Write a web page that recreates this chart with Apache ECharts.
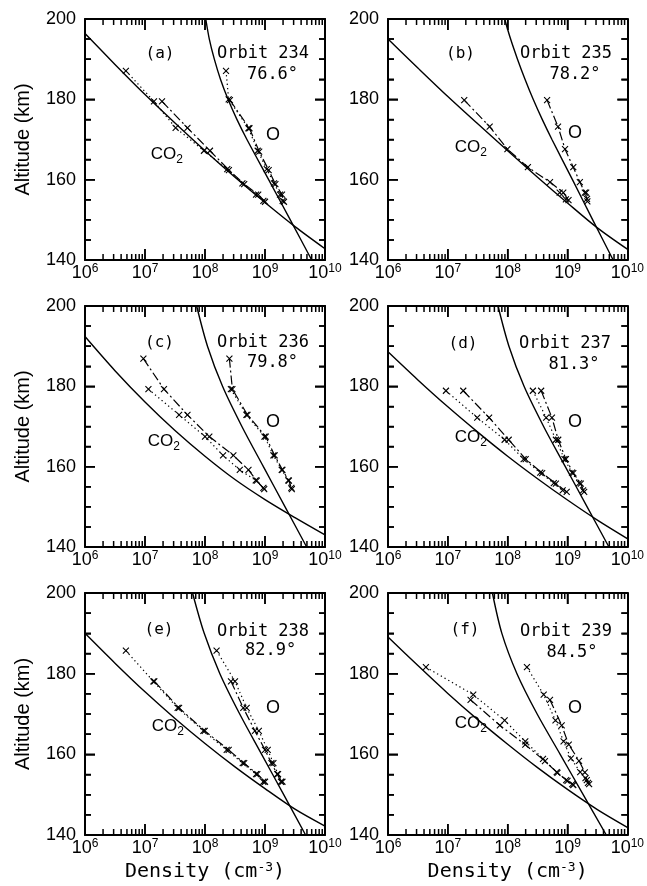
<!DOCTYPE html>
<html><head><meta charset="utf-8">
<script src="https://cdn.jsdelivr.net/npm/echarts@6/dist/echarts.min.js"></script>
<style>html,body{margin:0;padding:0;background:#fff}#c{width:647px;height:886px}</style>
</head><body><div id="c"></div>
<script>
// ---------- axis ticks ----------
const xMin = 1e6, xMax = 1e10, yMin = 140, yMax = 200;
const xMajorTicks = [1e7,1e8,1e9];
const xMinorTicks = [2e6,3e6,4e6,5e6,6e6,7e6,8e6,9e6,
                     2e7,3e7,4e7,5e7,6e7,7e7,8e7,9e7,
                     2e8,3e8,4e8,5e8,6e8,7e8,8e8,9e8,
                     2e9,3e9,4e9,5e9,6e9,7e9,8e9,9e9];
const yMajorTicks = [160,180];
const yMinorTicks = [145,150,155,165,170,175,185,190,195];
const yTickLabels = [140,160,180,200];

// ---------- panel (a) Orbit 234 ----------
const a_co2Model = [[1e6,196.4],[3.16e6,188.7],[1e7,181.2],[3.16e7,174.1],[1e8,167.2],[3.16e8,160.6],[1e9,154.3],[3.16e9,148.3],[1e10,142.8]];
const a_oModel   = [[1.03e8,200],[1.18e8,195],[1.43e8,190],[1.81e8,185],[2.42e8,180],[3.4e8,175],[5.0e8,170],[1.15e9,160],[2.64e9,150],[6.0e9,140]];
const a_co2Dot   = [[4.8e6,187.1],[1.41e7,179.5],[3.24e7,172.9],[9.6e7,167.2],[2.35e8,162.6],[4.2e8,159.1],[7.1e8,156.3],[9.4e8,154.7]];
const a_co2Dash  = [[1.92e7,179.5],[5.1e7,172.9],[1.21e8,167.2],[2.5e8,162.4],[4.5e8,158.9],[7.7e8,156.3],[1.0e9,154.5]];
const a_oDot     = [[2.24e8,187.1],[2.48e8,180.0],[5.3e8,172.8],[7.55e8,167.2],[1.07e9,162.6],[1.41e9,159.1],[1.78e9,156.3],[1.97e9,154.7]];
const a_oDash    = [[2.6e8,179.8],[5.5e8,172.8],[8.0e8,167],[1.15e9,162.4],[1.49e9,158.9],[1.92e9,156.3],[2.07e9,154.5]];

// ---------- panel (b) Orbit 235 ----------
const b_co2Model = [[1e6,195.0],[3.16e6,187.8],[1e7,180.7],[3.16e7,173.9],[1e8,167.2],[3.16e8,160.6],[1e9,154.2],[3.16e9,148.0],[1e10,142.7]];
const b_oModel   = [[8.9e7,200],[1.12e8,195],[1.46e8,190],[1.95e8,185],[2.67e8,180],[3.78e8,175],[5.5e8,170],[1.21e9,160],[2.64e9,150],[5.8e9,140]];
const b_co2Dot   = [[7.4e8,156.8],[9.4e8,155.1]];
const b_co2Dash  = [[1.88e7,179.8],[5.0e7,173.2],[9.9e7,167.6],[2.18e8,163.1],[5.1e8,159.4],[8.5e8,156.8],[1.04e9,154.9]];
const b_oDot     = [[2.05e9,156.8],[2.15e9,154.6]];
const b_oDash    = [[4.56e8,179.8],[6.95e8,173.2],[9.1e8,167.6],[1.25e9,163.1],[1.61e9,159.4],[1.95e9,156.8],[2.12e9,155.2]];

// ---------- panel (c) Orbit 236 ----------
const c_co2Model = [[1e6,192.4],[3.16e6,183.9],[1e7,176.1],[3.16e7,169.0],[1e8,162.6],[3.16e8,156.8],[1e9,151.8],[3.16e9,147.3],[1e10,143.0]];
const c_oModel   = [[7.26e7,200],[1.10e8,190],[1.96e8,180],[4.12e8,170],[9.4e8,160],[2.16e9,150],[4.95e9,140]];
const c_co2Dot   = [[1.14e7,179.3],[3.7e7,172.9],[1.0e8,167.5],[2.0e8,162.8],[3.8e8,159.2],[7.0e8,156.6],[9.4e8,154.7]];
const c_co2Dash  = [[9.4e6,186.9],[2.07e7,179.3],[5.1e7,172.9],[1.18e8,167.5],[2.97e8,162.8],[5.3e8,159.2],[7.3e8,156.5],[9.7e8,154.4]];
const c_oDot     = [[2.7e8,179.3],[4.9e8,172.9],[9.8e8,167.5],[1.38e9,162.8],[1.9e9,159.2],[2.45e9,156.6],[2.75e9,154.7]];
const c_oDash    = [[2.55e8,186.9],[2.86e8,179.3],[5.1e8,172.9],[1.03e9,167.5],[1.45e9,162.8],[1.95e9,159.2],[2.5e9,156.5],[2.8e9,154.4]];

// ---------- panel (d) Orbit 237 ----------
const d_co2Model = [[1e6,188.6],[3.16e6,181.6],[1e7,174.9],[3.16e7,168.6],[1e8,162.6],[3.16e8,157.0],[1e9,151.7],[3.16e9,146.7],[1e10,142.1]];
const d_oModel   = [[6.9e7,200],[1.05e8,190],[1.88e8,180],[3.99e8,170],[9.2e8,160],[2.13e9,150],[4.93e9,140]];
const d_co2Dot   = [[9.3e6,178.9],[3.1e7,172.2],[8.9e7,166.7],[1.85e8,161.9],[3.5e8,158.5],[5.9e8,155.9],[8.3e8,154.1]];
const d_co2Dash  = [[1.81e7,178.9],[4.9e7,172.2],[1.04e8,166.7],[2.0e8,161.9],[3.77e8,158.4],[6.4e8,155.8],[9.7e8,153.7]];
const d_oDot     = [[2.64e8,178.9],[4.4e8,172.2],[6.4e8,166.7],[8.9e8,161.9],[1.19e9,158.5],[1.57e9,155.9],[1.82e9,154.1]];
const d_oDash    = [[3.63e8,178.9],[5.5e8,172.2],[7.0e8,166.7],[9.4e8,161.9],[1.25e9,158.4],[1.67e9,155.8],[1.9e9,153.7]];

// ---------- panel (e) Orbit 238 ----------
const e_co2Model = [[1e6,190.0],[3.16e6,182.6],[1e7,175.5],[3.16e7,168.9],[1e8,162.7],[3.16e8,156.9],[1e9,151.5],[3.16e9,146.4],[1e10,142.2]];
const e_oModel   = [[6.2e7,200],[9.7e7,190],[1.77e8,180],[3.79e8,170],[8.8e8,160],[2.05e9,150],[4.75e9,140]];
const e_co2Dot   = [[4.8e6,185.7],[1.38e7,178.1],[3.5e7,171.5],[9.4e7,165.8],[2.3e8,161.1],[4.25e8,157.8],[7.1e8,155.1],[9.4e8,153.2]];
const e_co2Dash  = [[1.43e7,178.1],[3.7e7,171.5],[9.9e7,165.8],[2.48e8,161.1],[4.5e8,157.8],[7.45e8,155.1],[1.0e9,153.2]];
const e_oDot     = [[1.56e8,185.7],[3.16e8,178.1],[4.95e8,171.5],[7.9e8,165.8],[1.11e9,161.1],[1.38e9,157.8],[1.65e9,155.1],[1.95e9,153.2]];
const e_oDash    = [[2.71e8,178.1],[4.35e8,171.5],[6.8e8,165.8],[1.0e9,161.1],[1.28e9,157.8],[1.6e9,155.1],[1.85e9,153.2]];

// ---------- panel (f) Orbit 239 ----------
const f_co2Model = [[1e6,189.1],[3.16e6,182.0],[1e7,175.1],[3.16e7,168.6],[1e8,162.5],[3.16e8,156.7],[1e9,151.3],[3.16e9,146.3],[1e10,141.9]];
const f_oModel   = [[5.56e7,200],[8.0e7,190],[1.43e8,180],[3.11e8,170],[7.55e8,160],[1.83e9,150],[4.45e9,140]];
const f_co2Dot   = [[4.3e6,181.6],[2.66e7,174.8],[8.9e7,168.4],[1.97e8,163.2],[3.9e8,158.9],[6.6e8,155.6],[9.5e8,153.6],[1.2e9,152.6]];
const f_co2Dash  = [[2.4e7,173.5],[7.4e7,167.2],[1.97e8,162.4],[4.2e8,158.3],[6.8e8,155.4],[1.0e9,153.4],[1.25e9,152.4]];
const f_oDot     = [[2.1e8,181.6],[4.0e8,174.8],[6.3e8,168.4],[8.6e8,163.2],[1.14e9,159.0],[1.63e9,155.6],[2.0e9,154.1],[2.2e9,152.9]];
const f_oDash    = [[5.1e8,173.5],[8.0e8,167.2],[1.05e9,162.4],[1.56e9,158.4],[1.95e9,155.5],[2.1e9,153.6],[2.3e9,152.6]];

const panelLetters = ['(a)','(b)','(c)','(d)','(e)','(f)'];
const orbitLabels  = ['Orbit 234','Orbit 235','Orbit 236','Orbit 237','Orbit 238','Orbit 239'];
const angleLabels  = ['76.6°','78.2°','79.8°','81.3°','82.9°','84.5°'];

const panelData = [
  [a_co2Model,a_oModel,a_co2Dot,a_co2Dash,a_oDot,a_oDash],
  [b_co2Model,b_oModel,b_co2Dot,b_co2Dash,b_oDot,b_oDash],
  [c_co2Model,c_oModel,c_co2Dot,c_co2Dash,c_oDot,c_oDash],
  [d_co2Model,d_oModel,d_co2Dot,d_co2Dash,d_oDot,d_oDash],
  [e_co2Model,e_oModel,e_co2Dot,e_co2Dash,e_oDot,e_oDash],
  [f_co2Model,f_oModel,f_co2Dot,f_co2Dash,f_oDot,f_oDash]
];

// ---------- layout (pixels) ----------
const layout = [
  {left:85,  top:19,  h:241, paren:[75,35],   orbit:[178,35], angle:[187.5,56], O:[188,116], CO:[66,135]},
  {left:388, top:19,  h:241, paren:[72.5,35], orbit:[178,35], angle:[187,56],   O:[187,114], CO:[67,128]},
  {left:85,  top:306, h:241, paren:[74.5,36.5], orbit:[178,36.5], angle:[187.5,56.5], O:[188,116], CO:[63,135]},
  {left:388, top:306, h:241, paren:[75,38],   orbit:[177,38], angle:[186,59],   O:[187,116], CO:[67,131]},
  {left:85,  top:593, h:242, paren:[74,37],   orbit:[178,38.5], angle:[185.7,58], O:[188,115], CO:[67,133]},
  {left:388, top:593, h:242, paren:[77,37],   orbit:[178,39], angle:[184,59.5], O:[187,115], CO:[67,130]}
];
const W = 240;
const MAJ_LEN = 10, MIN_LEN = 6;   // tick lengths in pixels
const SANS = 'Liberation Sans, Arial, sans-serif';
const MONO = 'DejaVu Sans Mono, monospace';
const XSYM = 'path://M0,0L10,10M10,0L0,10';
const GAP = ['-','-'];

const grids = [], xAxes = [], yAxes = [], series = [];

function xLabelFmt(v){
  const e = Math.round(Math.log10(v));
  return '{b|10}{s|' + e + '}';
}

// frame tick segments for one panel, expressed in that panel's axis units
function frameTicks(L){
  const kmPerPx = (yMax - yMin) / L.h;
  const decPerPx = Math.log10(xMax / xMin) / W;
  const segs = [];
  const xTick = (v, len) => {
    const d = len * kmPerPx;
    segs.push([v, yMin], [v, yMin + d], GAP, [v, yMax], [v, yMax - d], GAP);
  };
  const yTick = (h, len) => {
    const f = Math.pow(10, len * decPerPx);
    segs.push([xMin, h], [xMin * f, h], GAP, [xMax, h], [xMax / f, h], GAP);
  };
  xMajorTicks.forEach(v => xTick(v, MAJ_LEN + 1));
  xMinorTicks.forEach(v => xTick(v, MIN_LEN));
  yMajorTicks.forEach(h => yTick(h, MAJ_LEN));
  yMinorTicks.forEach(h => yTick(h, MIN_LEN));
  return segs;
}

layout.forEach((L, i) => {
  grids.push({left:L.left, top:L.top, width:W, height:L.h});
  const bottomRow = i >= 4, leftCol = (i % 2) === 0;
  const axLine = {show:true, onZero:false, lineStyle:{color:'#000', width:2}};
  const tk = {color:'#000', width:1.5};
  xAxes.push({
    type:'log', logBase:10, min:xMin, max:xMax, gridIndex:i, position:'bottom',
    axisLine:axLine, splitLine:{show:false},
    axisTick:{show:true, inside:true, length:MAJ_LEN + 1, lineStyle:tk},
    axisLabel:{show:true, margin:3, formatter:xLabelFmt, color:'#000',
      rich:{b:{fontSize:18, fontFamily:SANS, color:'#000', lineHeight:20},
            s:{fontSize:12, fontFamily:SANS, color:'#000', lineHeight:13, verticalAlign:'top'}}},
    name: bottomRow ? '{n|Density (cm}{s|-3}{n|)}' : '',
    nameLocation:'middle', nameGap:26,
    nameTextStyle:{rich:{n:{fontSize:20, fontFamily:MONO, color:'#000', lineHeight:22},
                         s:{fontSize:13, fontFamily:MONO, color:'#000', lineHeight:14, verticalAlign:'top'}}}
  });
  xAxes.push({
    type:'log', logBase:10, min:xMin, max:xMax, gridIndex:i, position:'top',
    axisLine:axLine, splitLine:{show:false},
    axisTick:{show:true, inside:true, length:MAJ_LEN + 1, lineStyle:tk},
    axisLabel:{show:false}
  });
  yAxes.push({
    type:'value', min:yMin, max:yMax, interval:20, gridIndex:i, position:'left',
    axisLine:axLine, splitLine:{show:false},
    axisTick:{show:true, inside:true, length:MAJ_LEN, lineStyle:tk},
    minorTick:{show:true, splitNumber:4, length:MIN_LEN, lineStyle:tk},
    axisLabel:{show:true, margin:9, fontSize:18, fontFamily:SANS, color:'#000',
      formatter: v => (yTickLabels.indexOf(v) >= 0 ? String(v) : '')},
    name: leftCol ? 'Altitude (km)' : '',
    nameLocation:'middle', nameGap:52,
    nameTextStyle:{fontSize:20, fontFamily:SANS, color:'#000'}
  });
  yAxes.push({
    type:'value', min:yMin, max:yMax, interval:20, gridIndex:i, position:'right',
    axisLine:axLine, splitLine:{show:false},
    axisTick:{show:true, inside:true, length:MAJ_LEN, lineStyle:tk},
    minorTick:{show:true, splitNumber:4, length:MIN_LEN, lineStyle:tk},
    axisLabel:{show:false}
  });

  const xi = 2*i, yi = 2*i;
  const [co2Model, oModel, co2Dot, co2Dash, oDot, oDash] = panelData[i];

  // annotation texts placed in pixels via markPoint
  const mp = (pos, text, font, size) => ({name:text, x:L.left+pos[0], y:L.top+pos[1],
    label:{show:true, position:'inside', formatter:text, fontSize:size, fontFamily:font, color:'#000'}});
  const marks = [
    mp(L.paren, panelLetters[i], MONO, 16),
    mp(L.orbit, orbitLabels[i], MONO, 17),
    mp(L.angle, angleLabels[i], MONO, 17),
    mp(L.O, 'O', SANS, 18),
    mp([L.CO[0]+12.5, L.CO[1]], 'CO', SANS, 17),
    mp([L.CO[0]+28.5, L.CO[1]+6], '2', SANS, 12)
  ];

  const model = (d, withMarks) => ({type:'line', xAxisIndex:xi, yAxisIndex:yi, data:d, showSymbol:false,
    smooth:0.3, silent:true, lineStyle:{color:'#000', width:1.4}, z:3,
    markPoint: withMarks ? {silent:true, symbol:'circle', symbolSize:0, itemStyle:{color:'transparent'},
      animation:false, data:marks} : undefined});
  const obs = (d, dash) => ({type:'line', xAxisIndex:xi, yAxisIndex:yi, data:d,
    showSymbol:true, showAllSymbol:true, symbol:XSYM, symbolSize:6, silent:true,
    itemStyle:{color:'#000', borderColor:'#000', borderWidth:1.1},
    lineStyle:{color:'#000', width:1.2, type: dash ? [9,3,2,3] : [1.3,3]}, z:4});
  series.push(model(co2Model, true), model(oModel, false), obs(co2Dot,false), obs(co2Dash,true), obs(oDot,false), obs(oDash,true));

  // frame ticks (major + minor on all four sides) drawn as a broken polyline on the panel's axes
  series.push({
    type:'line', xAxisIndex:xi, yAxisIndex:yi, data:frameTicks(L), showSymbol:false,
    connectNulls:false, smooth:false, silent:true, clip:false, z:6,
    lineStyle:{color:'#000', width:1.5, type:'solid', cap:'butt'}
  });
});

const chart = echarts.init(document.getElementById('c'), null, {renderer:'canvas'});
chart.setOption({
  animation:false, backgroundColor:'#fff',
  grid:grids, xAxis:xAxes, yAxis:yAxes, series:series
});
</script></body></html>
